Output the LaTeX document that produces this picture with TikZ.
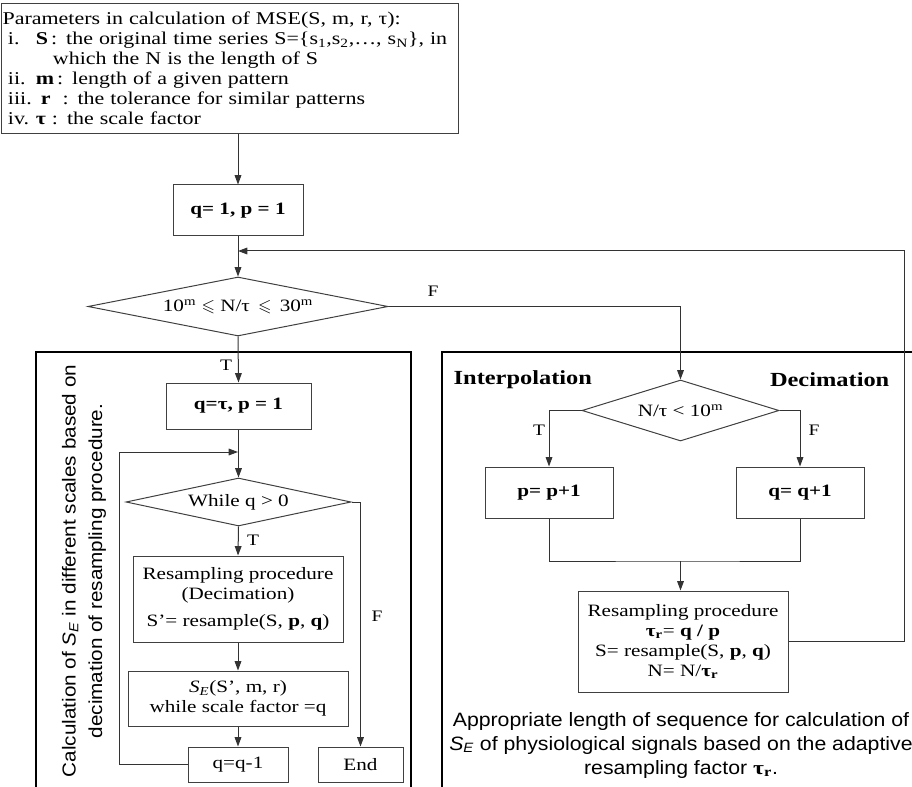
\documentclass[tikz,border=0pt]{standalone}
\usepackage{fontspec}
\usepackage{amssymb}
\setmainfont{Liberation Serif}[FakeStretch=1.22]
\setsansfont{Liberation Sans}[FakeStretch=1.1]
\usetikzlibrary{arrows.meta,shapes.geometric}

\begin{document}
\begin{tikzpicture}[
  x=0.75pt,y=-0.75pt,>={Triangle[length=7pt,width=5pt]},
  every node/.style={font=\fontsize{13}{15}\selectfont},
  box/.style={draw=black!75,line width=.75pt,inner sep=1pt,align=center},
  test/.style={diamond,draw=black!75,line width=.75pt,inner sep=0pt,aspect=4},
  flow/.style={->,draw=black!80,line width=.75pt},
  link/.style={draw=black!80,line width=.75pt},
  panel/.style={draw=black,line width=1.2pt},
  tag/.style={font=\fontsize{12}{14}\selectfont},
  heading/.style={font=\bfseries\fontsize{15}{18}\selectfont},
  note/.style={font=\sffamily\fontsize{14.5}{18}\selectfont,align=center}
]
\useasboundingbox (0,0) rectangle (912,787);
% Two panels, both running off the lower edge.
\draw[panel] (36,800) -- (36,352) -- (411,352) -- (411,800);
\draw[panel] (442,800) -- (442,352) -- (914,352);
% Parameters and start.
\node[box,anchor=north west,align=left,inner xsep=.8pt,inner ysep=3pt,
  text width=341pt,minimum height=97.5pt,font=\fontsize{13.5}{15}\selectfont] (params) at (1,3)
  {Parameters in calculation of MSE(S, m, r, τ):\\
   \hspace*{.3em}\makebox[1.55em][l]{i.}\textbf{S}\,:\enspace the original time series S=\{s\textsubscript{1},s\textsubscript{2},…, s\textsubscript{N}\}, in\\
   \hspace*{2.8em}which the N is the length of S\\
   \hspace*{.3em}\makebox[1.55em][l]{ii.}\textbf{m}\,: length of a given pattern\\
   \hspace*{.3em}iii.\enspace\textbf{r}\,\enspace:\enspace the tolerance for similar patterns\\
   \hspace*{.3em}\makebox[1.55em][l]{iv.}\textbf{τ}\,\,:\enspace the scale factor};
\node[box,minimum width=97.5pt,minimum height=38.25pt] (init) at (238,210.5)
  {\textbf{q= 1, p = 1}};
\coordinate (back) at (238,251);
\node[test,minimum width=225pt,minimum height=44.25pt] (chk) at (238,306.5)
  {10\textsuperscript{m} $\leqslant$ N/τ\, $\leqslant$\, 30\textsuperscript{m}};
\draw[flow] (params.south -| init) -- (init.north);
\draw[flow] (init.south) -- (chk.north);
% Left panel: decimation loop over the scales.
\node[note,rotate=90,font=\sffamily\fontsize{14.1}{20}\selectfont] (leftnote) at (84,571)
  {Calculation of \textit{S\textsubscript{E}} in different scales based on\\
   decimation of resampling procedure.};
\node[box,minimum width=108.75pt,minimum height=34.5pt] (qtau) at (238.5,406)
  {\textbf{q=τ, p = 1}};
\coordinate (loop) at (238,452);
\node[test,minimum width=168.75pt,minimum height=36pt] (while) at (238.5,502)
  {While q > 0};
\node[box,minimum width=157.5pt,minimum height=64.5pt] (resample) at (238,599)
  {Resampling procedure\\(Decimation)\\[5pt]S’= resample(S, \textbf{p}, \textbf{q})};
\node[box,minimum width=165pt,minimum height=41.25pt] (entropy) at (238,698.5)
  {\textit{S\textsubscript{E}}(S’, m, r)\\while scale factor =q};
\node[box,minimum width=75pt,minimum height=26.25pt] (dec) at (238,764.5) {q=q-1};
\node[box,minimum width=63.75pt,minimum height=26.25pt] (stop) at (360.5,764.5) {End};
\draw[flow] (chk.south) -- (qtau.north);
\node[tag] (chkT) at (226,365) {T};
\draw[flow] (qtau.south) -- (while.north);
\draw[flow] (dec.west) -- (119,764.5) |- (loop);
\draw[flow] (while.south) -- (resample.north);
\node[tag] (whileT) at (253,540) {T};
\draw[flow] (while.east) -| (stop.north);
\node[tag] (whileF) at (377,616) {F};
\draw[flow] (resample.south) -- (entropy.north);
\draw[flow] (entropy.south) -- (dec.north);
% Right panel: adapt p or q until the length fits.
\node[heading,anchor=west] (interp) at (449,380) {Interpolation};
\node[heading,anchor=east] (decim) at (894,380) {Decimation};
\node[test,minimum width=147.75pt,minimum height=45.75pt] (ratio) at (680.5,410.5)
  {N/τ < 10\textsuperscript{m}};
\node[box,minimum width=96pt,minimum height=38.25pt] (pinc) at (549,492.5) {\textbf{p= p+1}};
\node[box,minimum width=96pt,minimum height=38.25pt] (qinc) at (800,492.5) {\textbf{q= q+1}};
\coordinate (merge) at (680.5,561);
\node[box,minimum width=157.5pt,minimum height=75.75pt] (resample2) at (683,641.5)
  {Resampling procedure\\\textbf{τ\textsubscript{r}}= \textbf{q / p}\\
   S= resample(S, \textbf{p}, \textbf{q})\\N= N/\textbf{τ\textsubscript{r}}};
\node[note] (rightnote) at (681,745)
  {Appropriate length of sequence for calculation of\\
   \textit{S\textsubscript{E}} of physiological signals based on the adaptive\\
   resampling factor {\rmfamily\textbf{τ\textsubscript{r}}}.};
\draw[flow] (chk.east) -| (ratio.north);
\node[tag] (chkF) at (433,291) {F};
\draw[flow] (ratio.west) -| (pinc.north);
\node[tag] (ratioT) at (539,430) {T};
\draw[flow] (ratio.east) -| (qinc.north);
\node[tag] (ratioF) at (814,430) {F};
\draw[link] (pinc.south) |- (merge) -| (qinc.south);
\draw[flow] (merge) -- (merge |- resample2.north);
% Feedback to the length check.
\draw[flow] (resample2.east) -- (904,641.5) |- (back);
\end{tikzpicture}
\end{document}
